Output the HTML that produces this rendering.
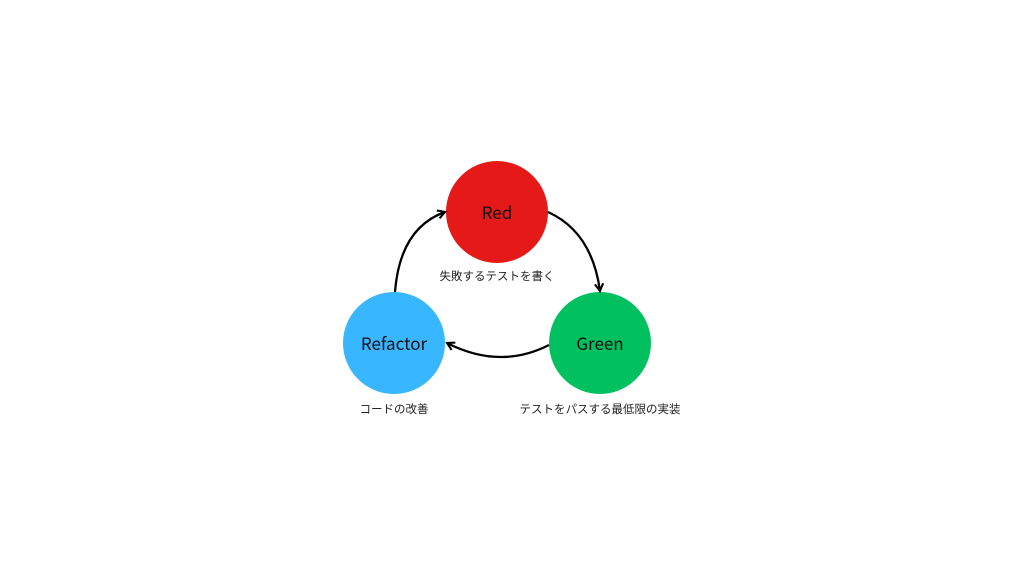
<!DOCTYPE html>
<html><head><meta charset="utf-8"><style>
html,body{margin:0;padding:0;background:#fff;}
svg{display:block}
text{font-family:"Noto Sans CJK JP","Liberation Sans",sans-serif;}
</style></head><body>
<svg width="1024" height="576" viewBox="0 0 1024 576">
<defs>
<marker id="a" viewBox="0 0 10 10" refX="8" refY="5" markerWidth="4.5" markerHeight="4.5" orient="auto-start-reverse">
<path d="M1,1 L8,5 L1,9" fill="none" stroke="#000" stroke-width="2"/>
</marker>
</defs>
<circle cx="497" cy="212" r="51" fill="#e61919"/>
<circle cx="600" cy="343" r="51" fill="#00c060"/>
<circle cx="394" cy="343" r="51" fill="#38b6ff"/>
<path d="M548,212 Q592,232 600,291" fill="none" stroke="#000" stroke-width="2.3" marker-end="url(#a)"/>
<path d="M549,345 Q500,370 447,343" fill="none" stroke="#000" stroke-width="2.3" marker-end="url(#a)"/>
<path d="M395,292 Q400,228 445,212" fill="none" stroke="#000" stroke-width="2.3" marker-end="url(#a)"/>
<text x="497" y="219" font-size="17" text-anchor="middle" fill="#111">Red</text>
<text x="600" y="350" font-size="17" text-anchor="middle" fill="#111">Green</text>
<text x="394" y="350" font-size="17" text-anchor="middle" fill="#111">Refactor</text>
<text x="497" y="280" font-size="11.5" text-anchor="middle" fill="#222">失敗するテストを書く</text>
<text x="394" y="413" font-size="11.5" text-anchor="middle" fill="#222">コードの改善</text>
<text x="600" y="413" font-size="11.5" text-anchor="middle" fill="#222">テストをパスする最低限の実装</text>
</svg>
</body></html>
